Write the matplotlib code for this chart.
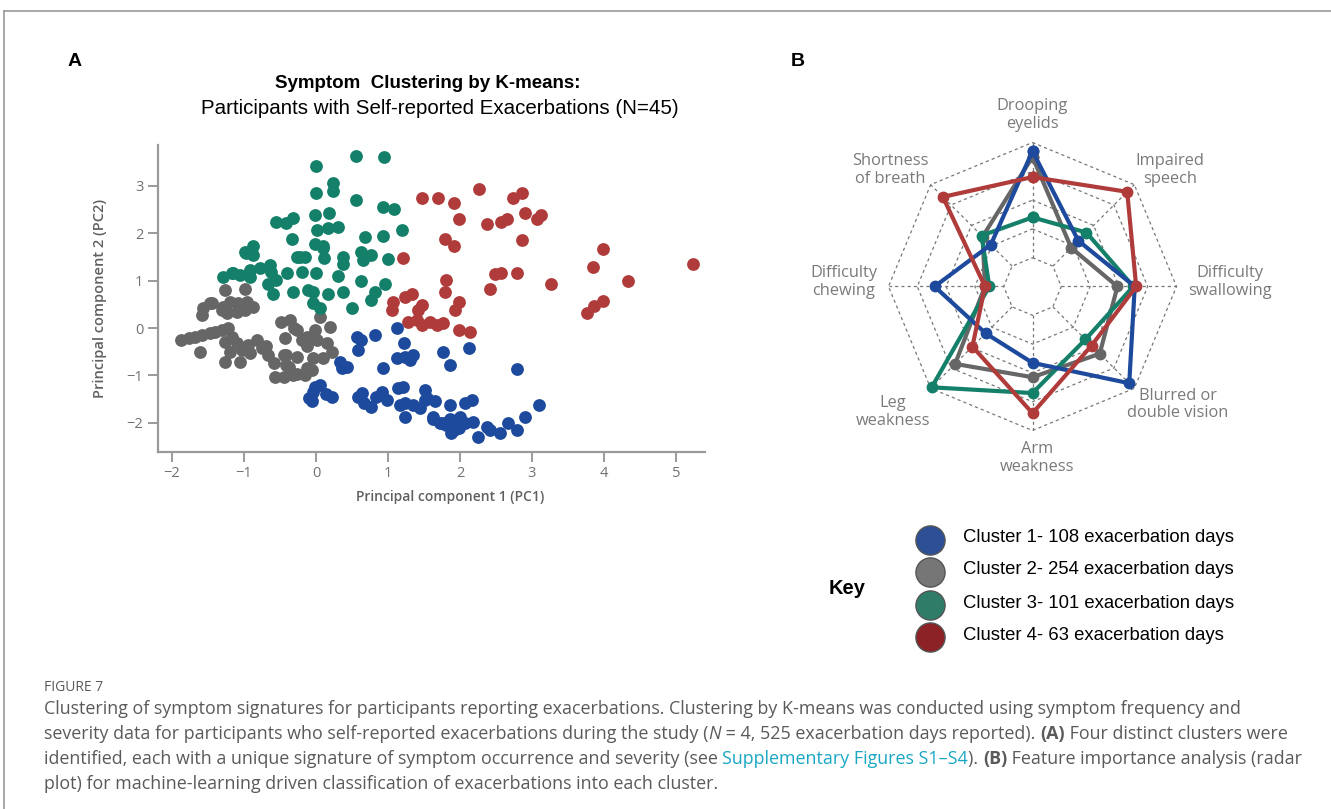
import matplotlib
matplotlib.use("Agg")
import matplotlib.pyplot as plt
import numpy as np
from matplotlib.lines import Line2D

# --- panel A: PCA scatter, one list of (PC1, PC2) per cluster ---
blue_pts = [
    (1.12, 0.0), (0.57, -0.18), (0.63, -0.25), (0.82, -0.15), (0.59, -0.46), (1.22, -0.31),
    (1.12, -0.64), (1.24, -0.61), (1.35, -0.57), (1.31, -0.68), (1.77, -0.50), (2.12, -0.43),
    (1.86, -0.78), (2.79, -0.87), (0.33, -0.71), (0.43, -0.82), (0.36, -0.85), (0.93, -0.85),
    (-0.01, -1.24), (0.06, -1.20), (-0.04, -1.34), (-0.06, -1.55), (-0.10, -1.48), (0.22, -1.45),
    (0.59, -1.45), (0.64, -1.38), (0.66, -1.58), (0.77, -1.66), (0.84, -1.45), (0.91, -1.34),
    (0.98, -1.52), (1.14, -1.27), (1.21, -1.24), (1.17, -1.62), (1.24, -1.87), (1.24, -1.59),
    (1.35, -1.62), (1.44, -1.69), (1.51, -1.52), (1.51, -1.31), (1.54, -1.48), (1.65, -1.55),
    (1.63, -1.87), (1.63, -1.91), (1.72, -2.01), (1.77, -2.01), (1.84, -1.98), (1.86, -1.62),
    (1.86, -1.91), (1.88, -2.22), (1.91, -2.15), (1.95, -2.01), (2.0, -1.87), (2.07, -1.59),
    (2.16, -1.52), (2.07, -2.01), (2.18, -1.98), (2.25, -2.29), (2.37, -2.08), (2.42, -2.15),
    (2.56, -2.22), (2.67, -2.01), (2.79, -2.15), (2.90, -1.88), (3.10, -1.62), (1.81, -2.05),
    (1.98, -2.10), (0.14, -1.40),
]
gray_pts = [
    (-1.26, 0.80), (-0.99, 0.82), (-1.57, 0.42), (-1.45, 0.52), (-1.59, 0.27), (-1.29, 0.45),
    (-1.19, 0.55), (-1.08, 0.52), (-0.96, 0.55), (-0.87, 0.45), (-1.24, 0.31), (-1.10, 0.34),
    (-0.99, 0.38), (-1.47, 0.52), (-1.31, 0.38), (-1.87, -0.25), (-1.77, -0.22), (-1.68, -0.18),
    (-1.59, -0.15), (-1.61, -0.50), (-1.47, -0.11), (-1.40, -0.08), (-1.31, -0.04), (-1.22, 0.0),
    (-1.17, -0.18), (-1.26, -0.29), (-1.10, -0.32), (-1.03, -0.46), (-1.19, -0.50), (-1.26, -0.71),
    (-1.06, -0.71), (-0.94, -0.36), (-0.82, -0.25), (-0.92, -0.53), (-0.75, -0.43), (-0.69, -0.39),
    (-0.66, -0.57), (-0.59, -0.74), (-0.57, -1.03), (-0.45, -1.03), (-0.48, 0.13), (-0.36, 0.17),
    (-0.43, -0.22), (-0.27, -0.04), (-0.41, -0.57), (-0.27, -0.61), (-0.38, -0.82), (-0.27, -0.96),
    (-0.13, -0.85), (-0.13, -0.39), (-0.15, -0.99), (-0.06, -0.89), (-0.04, -0.64), (0.10, -0.64),
    (0.15, -0.32), (0.22, -0.50), (0.19, 0.03), (0.06, 0.24), (-0.01, -0.04), (0.01, -0.25),
    (-0.13, -0.20), (-0.20, -0.26), (-0.32, -0.99), (-0.41, -0.78), (-0.45, -0.57), (-0.30, 0.0),
]
green_pts = [
    (0.0, 3.42), (0.56, 3.63), (0.94, 3.60), (0.24, 3.05), (0.24, 2.88), (0.0, 2.84), (0.55, 2.69),
    (0.93, 2.56), (1.09, 2.52), (-0.02, 2.38), (0.18, 2.43), (-0.56, 2.24), (-0.42, 2.22),
    (-0.32, 2.33), (0.02, 2.07), (0.16, 2.12), (0.30, 2.14), (1.20, 2.07), (-0.34, 1.87),
    (0.68, 1.91), (0.93, 1.94), (-0.02, 1.77), (0.10, 1.72), (-0.99, 1.61), (-0.88, 1.72),
    (-0.88, 1.54), (-0.27, 1.50), (-0.15, 1.50), (0.10, 1.68), (0.11, 1.47), (0.37, 1.50),
    (0.37, 1.35), (0.63, 1.61), (0.65, 1.43), (0.76, 1.54), (1.0, 1.45), (-1.29, 1.08),
    (-1.15, 1.17), (-1.06, 1.12), (-0.92, 1.22), (-0.92, 1.08), (-0.78, 1.26), (-0.64, 1.33),
    (-0.62, 1.19), (-0.55, 1.01), (-0.66, 0.93), (-0.40, 1.17), (-0.19, 1.19), (0.0, 1.17),
    (0.31, 1.10), (0.63, 0.99), (0.96, 0.93), (-0.32, 0.77), (-0.04, 0.75), (0.17, 0.72),
    (0.38, 0.75), (-0.60, 0.72), (0.82, 0.77), (-0.97, 1.58), (-1.17, 1.15), (0.77, 0.59),
    (-0.04, 0.52), (0.06, 0.42), (0.50, 0.42), (-0.11, 0.80), (-0.22, 1.50),
]
red_pts = [
    (1.47, 2.74), (1.69, 2.74), (1.92, 2.63), (1.99, 2.31), (2.26, 2.93), (2.74, 2.74), (2.86, 2.84),
    (2.90, 2.42), (3.07, 2.31), (3.13, 2.38), (2.38, 2.19), (2.57, 2.24), (2.65, 2.29), (2.86, 1.86),
    (1.79, 1.88), (1.91, 1.74), (1.21, 1.47), (2.49, 1.14), (2.57, 1.17), (2.79, 1.17), (2.41, 0.82),
    (3.26, 0.92), (1.81, 1.01), (1.79, 0.75), (1.98, 0.55), (1.93, 0.38), (1.47, 0.49), (1.42, 0.38),
    (1.24, 0.66), (1.33, 0.72), (1.07, 0.55), (1.05, 0.38), (1.28, 0.13), (1.40, 0.17), (1.47, 0.06),
    (1.58, 0.13), (1.68, 0.06), (1.77, 0.10), (1.98, -0.04), (2.14, -0.08), (3.99, 1.67),
    (3.85, 1.28), (4.34, 0.99), (3.76, 0.32), (3.86, 0.46), (3.98, 0.58), (5.24, 1.34),
]
x_ticks = [-2, -1, 0, 1, 2, 3, 4, 5]
y_ticks = [-2, -1, 0, 1, 2, 3]

# --- panel B: radar values, clockwise from the top ---
radar_labels = ["Drooping\neyelids", "Impaired\nspeech", "Difficulty\nswallowing",
                "Blurred or\ndouble vision", "Arm\nweakness", "Leg\nweakness",
                "Difficulty\nchewing", "Shortness\nof breath"]
c1_vals = [0.94, 0.45, 0.71, 0.95, 0.53, 0.46, 0.68, 0.41]
c2_vals = [0.90, 0.38, 0.59, 0.66, 0.63, 0.76, 0.33, 0.49]
c3_vals = [0.48, 0.53, 0.70, 0.52, 0.74, 0.99, 0.30, 0.50]
c4_vals = [0.76, 0.93, 0.72, 0.58, 0.88, 0.59, 0.33, 0.88]
legend_labels = ["Cluster 1- 108 exacerbation days", "Cluster 2- 254 exacerbation days",
                 "Cluster 3- 101 exacerbation days", "Cluster 4- 63 exacerbation days"]

c_blue, c_gray, c_green, c_red = "#1d4a9c", "#666666", "#15806a", "#b03b3b"
key_cols = ["#2c4f96", "#767676", "#2f7c69", "#8c2226"]

W, H = 1331, 809
fig = plt.figure(figsize=(W / 100, H / 100), dpi=100)
fig.patch.set_facecolor("white")

# frame lines (top and left)
fig.add_artist(Line2D([4 / W, 1], [1 - 11 / H, 1 - 11 / H], color="#999999", lw=1.2))
fig.add_artist(Line2D([4 / W, 4 / W], [0, 1 - 11 / H], color="#999999", lw=1.2))

fig.text(75 / W, 1 - 62 / H, "A", fontsize=14, fontweight="bold", family="Liberation Sans",
         ha="center", va="center")
fig.text(798 / W, 1 - 62 / H, "B", fontsize=14, fontweight="bold", family="Liberation Sans",
         ha="center", va="center")
fig.text(428 / W, 1 - 84 / H, "Symptom  Clustering by K-means:", fontsize=13.5, fontweight="bold",
         family="Liberation Sans", ha="center", va="center")
fig.text(440 / W, 1 - 108 / H, "Participants with Self-reported Exacerbations (N=45)", fontsize=14.8,
         family="Liberation Sans", ha="center", va="center")

# ---- scatter ----
ax = fig.add_axes([158 / W, 1 - 451.7 / H, 547 / W, 306.7 / H])
for pts, col in [(gray_pts, c_gray), (green_pts, c_green), (red_pts, c_red), (blue_pts, c_blue)]:
    arr = np.array(pts)
    ax.scatter(arr[:, 0], arr[:, 1], s=85, color=col, linewidths=0, zorder=3)
ax.set_xlim((158 - 316) / 72, (705 - 316) / 72)
ax.set_ylim((328 - 451.7) / 47.4, (328 - 145) / 47.4)
ax.set_xticks(x_ticks)
ax.set_yticks(y_ticks)
for s in ["top", "right"]:
    ax.spines[s].set_visible(False)
for s in ["left", "bottom"]:
    ax.spines[s].set_color("#9a9a9a")
    ax.spines[s].set_linewidth(1.6)
ax.tick_params(colors="#9a9a9a", length=7, width=1.4, labelsize=10.5, labelcolor="#707070")
for lab in ax.get_xticklabels() + ax.get_yticklabels():
    lab.set_family("Open Sans")
ax.set_xlabel("Principal component 1 (PC1)", fontsize=10, fontweight="semibold",
              color="#606060", family="Open Sans")
ax.set_ylabel("Principal component 2 (PC2)", fontsize=10.5, fontweight="semibold",
              color="#606060", family="Open Sans")
ax.xaxis.set_label_coords((450 - 158) / 547, (451.7 - 497) / 306.7)
ax.yaxis.set_label_coords((100 - 158) / 547, 0.5)
ax.xaxis.label.set_va("center")
ax.yaxis.label.set_va("center")

# ---- radar ----
R = 144
rad = fig.add_axes([(1032.5 - 1.6 * R) / W, 1 - (286.5 + 1.6 * R) / H, 3.2 * R / W, 3.2 * R / H])
rad.set_xlim(-1.6, 1.6)
rad.set_ylim(-1.6, 1.6)
rad.set_aspect("equal")
rad.axis("off")
n = len(radar_labels)
ang = np.arange(n) * 2 * np.pi / n
sx, sy = np.sin(ang), np.cos(ang)
for lev in [0.2, 0.4, 0.6, 0.8, 1.0]:
    rad.plot(np.append(sx, sx[0]) * lev, np.append(sy, sy[0]) * lev, ls=(0, (2.5, 2.5)),
             color="#777777", lw=0.9, zorder=1)
for i in range(n):
    rad.plot([0.2 * sx[i], sx[i]], [0.2 * sy[i], sy[i]], ls=(0, (2.5, 2.5)), color="#777777",
             lw=0.9, zorder=1)
for vals, col in [(c2_vals, c_gray), (c3_vals, c_green), (c1_vals, c_blue), (c4_vals, c_red)]:
    v = np.array(vals + vals[:1])
    xx = v * np.append(sx, sx[0])
    yy = v * np.append(sy, sy[0])
    rad.plot(xx, yy, color=col, lw=3.0, marker="o", ms=7.5, zorder=3, solid_joinstyle="miter")
label_pos = [(0.0, 1.19), (0.955, 0.81), (1.37, 0.03), (1.01, -0.82), (0.03, -1.19),
             (-0.97, -0.87), (-1.31, 0.03), (-0.99, 0.81)]
for lab, (lx, ly) in zip(radar_labels, label_pos):
    rad.text(lx, ly, lab, ha="center", va="center", fontsize=11.8, color="#7a7a7a",
             family="Open Sans", linespacing=1.15)

# ---- key ----
fig.text(847 / W, 1 - 588 / H, "Key", fontsize=14.5, fontweight="bold", family="Liberation Sans",
         ha="center", va="center")
key_y = [540, 572, 605, 637]
for ky, col, lab in zip(key_y, key_cols, legend_labels):
    fig.add_artist(Line2D([930 / W], [1 - ky / H], marker="o", ms=21, color=col,
                          markeredgecolor="#555555", markeredgewidth=1.0))
    fig.text(963 / W, 1 - (ky - 2) / H, lab, fontsize=13.3, family="Liberation Sans",
             ha="left", va="center")

# ---- caption ----
fig.canvas.draw()
renderer = fig.canvas.get_renderer()
cap_kw = dict(fontsize=12.9, color="#5a5a5a", family="Open Sans", va="baseline")


def put_runs(x_px, y_px, parts):
    x = x_px
    for txt, extra in parts:
        kw = dict(cap_kw)
        kw.update(extra)
        t = fig.text(x / W, 1 - y_px / H, txt, **kw)
        bb = t.get_window_extent(renderer)
        x = bb.x1


fig.text(44 / W, 1 - 691 / H, "FIGURE 7", fontsize=10, color="#5a5a5a", family="Open Sans",
         va="baseline")
put_runs(44, 714, [("Clustering of symptom signatures for participants reporting exacerbations. "
                    "Clustering by K-means was conducted using symptom frequency and", {})])
put_runs(44, 739, [("severity data for participants who self-reported exacerbations during the study (", {}),
                   ("N", {"style": "italic"}),
                   (" = 4, 525 exacerbation days reported). ", {}),
                   ("(A)", {"fontweight": "bold"}),
                   (" Four distinct clusters were", {})])
put_runs(44, 764, [("identified, each with a unique signature of symptom occurrence and severity (see ", {}),
                   ("Supplementary Figures S1\u2013S4", {"color": "#1aa7c4"}),
                   ("). ", {}),
                   ("(B)", {"fontweight": "bold"}),
                   (" Feature importance analysis (radar", {})])
put_runs(44, 789, [("plot) for machine-learning driven classification of exacerbations into each cluster.", {})])

fig.savefig("out.png", dpi=100)
